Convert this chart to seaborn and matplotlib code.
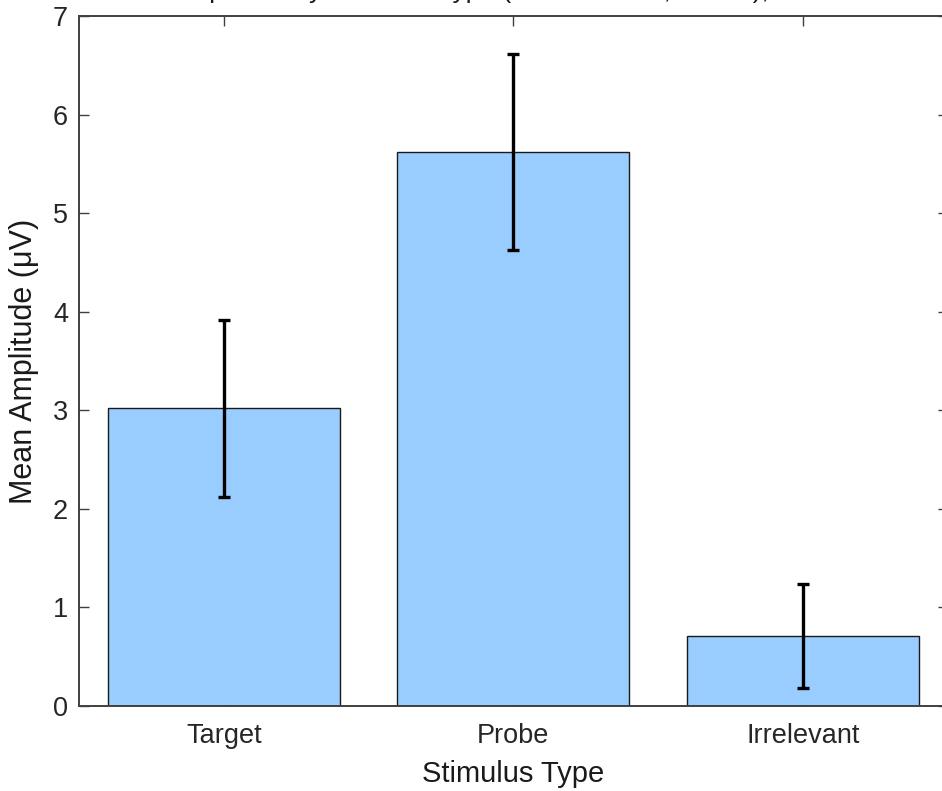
import matplotlib
matplotlib.use("Agg")
import matplotlib.pyplot as plt
import seaborn as sns
import pandas as pd

# Mean ERP amplitude per stimulus type, with error-bar half-widths
categories = ["Target", "Probe", "Irrelevant"]
mean_amplitude = [3.02, 5.62, 0.71]
error_halfwidth = [0.90, 0.99, 0.53]
y_ticks = [0, 1, 2, 3, 4, 5, 6, 7]

df = pd.DataFrame({"Stimulus Type": categories, "Amplitude": mean_amplitude})

sns.set_theme(style="white")
plt.rcParams["font.family"] = ["Liberation Sans", "DejaVu Sans"]

W, H = 942, 791
fig = plt.figure(figsize=(W / 100, H / 100), dpi=100)
ax = fig.add_axes([79 / W, 85 / H, 868.5 / W, 690 / H])

frame = "#404040"
sns.barplot(data=df, x="Stimulus Type", y="Amplitude", order=categories,
            color="#99CCFF", saturation=1, width=0.8,
            edgecolor="#1a1a1a", linewidth=1.0, errorbar=None, ax=ax)

# error bars drawn on the categorical positions used by seaborn
ax.errorbar(x=range(len(categories)), y=mean_amplitude, yerr=error_halfwidth,
            fmt="none", ecolor="black", elinewidth=2.4, capsize=4.5,
            capthick=2.4, zorder=3)

ax.set_xlim(-0.5, 2.5)
ax.set_ylim(0, 7)
ax.set_yticks(y_ticks)
ax.set_yticklabels([str(t) for t in y_ticks])

ax.set_axisbelow(True)
ax.tick_params(axis="both", which="both", direction="in", length=7,
               width=1.0, color=frame, labelsize=19.5, labelcolor="#262626",
               top=True, right=True, bottom=True, left=True)
ax.tick_params(axis="x", pad=12)
ax.tick_params(axis="y", pad=8)
for s in ax.spines.values():
    s.set_color(frame)
    s.set_linewidth(1.4)

ax.set_xlabel("Stimulus Type", fontsize=21, color="#1a1a1a", labelpad=8)
ax.set_ylabel("Mean Amplitude (\u03bcV)", fontsize=22, color="#1a1a1a",
              labelpad=10)

fig.text(0.54, 1.0 + 2 / H,
         "Mean P300 Amplitude by Stimulus Type (Mean \u00b1 SEM, n = 20), Pz Electrode Only",
         ha="center", va="baseline", fontsize=19, color="#1a1a1a")

fig.savefig("out.png", dpi=100)
